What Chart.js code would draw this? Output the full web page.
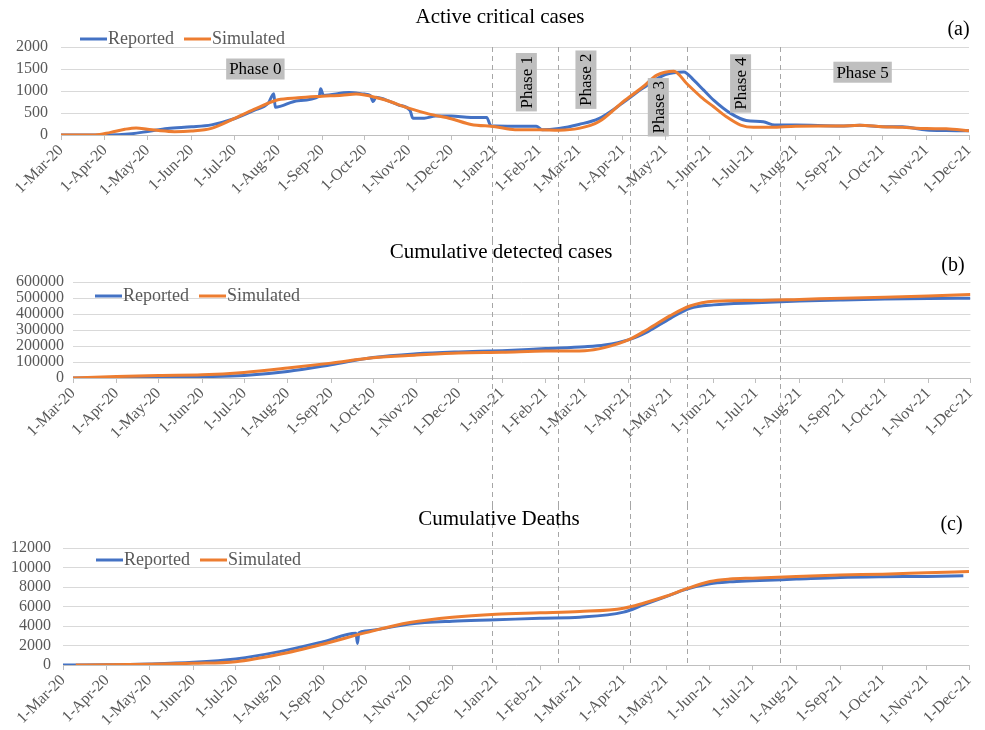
<!DOCTYPE html>
<html><head><meta charset="utf-8">
<script src="https://cdn.jsdelivr.net/npm/chart.js@4.4.0/dist/chart.umd.min.js"></script>
<style>
html,body{margin:0;padding:0;background:#fff;}
#wrap{position:relative;width:985px;height:730px;overflow:hidden;background:#fff;}
canvas{position:absolute;left:0;}
</style></head><body>
<div id="wrap">
<canvas id="cA" width="985" height="240" style="top:0px"></canvas>
<canvas id="cB" width="985" height="265" style="top:240px"></canvas>
<canvas id="cC" width="985" height="225" style="top:505px"></canvas>
</div>
<script>
// ---------------- DATA ----------------
const tickLabels = ['1-Mar-20','1-Apr-20','1-May-20','1-Jun-20','1-Jul-20','1-Aug-20','1-Sep-20','1-Oct-20','1-Nov-20','1-Dec-20','1-Jan-21','1-Feb-21','1-Mar-21','1-Apr-21','1-May-21','1-Jun-21','1-Jul-21','1-Aug-21','1-Sep-21','1-Oct-21','1-Nov-21','1-Dec-21'];
const seriesNames = ['Reported','Simulated'];
const phaseBoundaries = ['2020-12-30','2021-02-14','2021-04-06','2021-05-16','2021-07-21'];
const phaseNames = ['Phase 0','Phase 1','Phase 2','Phase 3','Phase 4','Phase 5'];
const phaseDates = ['2020-07-16','2021-01-23','2021-03-06','2021-04-26','2021-06-23','2021-09-17'];
const phaseValues = [1500,1200,1257,630,1171,1427];
const phaseVertical = [false,true,true,true,true,false];

// (a) Active critical cases
const activeRepDates = ['2020-03-01','2020-04-01','2020-04-20','2020-05-01','2020-05-15','2020-06-01','2020-06-15','2020-07-01','2020-07-15','2020-07-25','2020-07-29','2020-07-30','2020-08-15','2020-08-30','2020-08-31','2020-09-02','2020-09-20','2020-10-01','2020-10-05','2020-10-07','2020-10-09','2020-10-15','2020-10-25','2020-11-02','2020-11-04','2020-11-12','2020-11-20','2020-12-01','2020-12-15','2020-12-26','2020-12-29','2021-01-15','2021-01-30','2021-02-03','2021-02-15','2021-03-01','2021-03-15','2021-04-01','2021-04-15','2021-05-01','2021-05-14','2021-05-21','2021-05-28','2021-06-04','2021-06-16','2021-06-27','2021-07-09','2021-07-17','2021-08-01','2021-09-01','2021-09-15','2021-10-01','2021-10-15','2021-11-01','2021-11-15','2021-12-01'];
const activeRep = [0,0,30,80,150,185,230,370,560,720,940,630,780,880,1050,900,965,930,900,760,860,810,680,560,380,380,430,430,400,400,210,200,200,120,150,240,370,730,1060,1375,1434,1246,1019,793,491,330,300,226,226,205,220,190,185,115,100,95];
const activeSimDates = ['2020-03-01','2020-03-25','2020-04-05','2020-04-15','2020-04-23','2020-05-01','2020-05-10','2020-05-20','2020-06-01','2020-06-15','2020-07-01','2020-07-15','2020-08-01','2020-08-15','2020-09-01','2020-09-15','2020-09-25','2020-10-01','2020-10-15','2020-11-01','2020-11-15','2020-12-01','2020-12-15','2021-01-01','2021-01-15','2021-02-01','2021-02-15','2021-03-01','2021-03-15','2021-04-01','2021-04-15','2021-04-25','2021-05-07','2021-05-16','2021-05-26','2021-06-04','2021-06-13','2021-06-23','2021-07-02','2021-07-15','2021-08-01','2021-09-01','2021-09-15','2021-10-01','2021-10-15','2021-11-01','2021-11-15','2021-12-01'];
const activeSim = [0,0,60,130,160,130,95,75,90,150,370,580,800,845,880,905,930,910,800,610,480,370,240,190,120,120,110,150,300,750,1090,1360,1450,1170,868,641,415,226,174,175,200,205,220,190,175,145,140,95];

// (b) Cumulative detected cases
const detectedDates = ['2020-03-01','2020-04-01','2020-05-01','2020-06-01','2020-07-01','2020-08-01','2020-09-01','2020-10-01','2020-11-01','2020-12-01','2021-01-01','2021-02-01','2021-03-01','2021-03-15','2021-04-01','2021-04-15','2021-05-01','2021-05-15','2021-06-01','2021-07-01','2021-08-01','2021-09-01','2021-10-01','2021-11-01','2021-12-01'];
const detectedRep = [0,1000,4000,8000,16000,41000,83000,128000,151000,163000,171000,184000,195000,206000,238000,290000,373000,435000,457000,470000,481000,488000,493000,497000,499000];
const detectedSim = [0,9000,16000,20000,35000,62000,93000,126000,143000,157000,161000,168000,171000,190000,238000,305000,390000,450000,480000,484000,491000,499000,505000,513000,522000];

// (c) Cumulative deaths
const deathsRepDates = ['2020-03-01','2020-04-01','2020-05-01','2020-06-01','2020-07-01','2020-08-01','2020-09-01','2020-09-24','2020-09-25','2020-09-26','2020-10-01','2020-11-01','2020-12-01','2021-01-01','2021-02-01','2021-03-01','2021-04-01','2021-04-15','2021-05-01','2021-05-15','2021-06-01','2021-06-15','2021-07-01','2021-08-01','2021-09-01','2021-10-01','2021-11-01','2021-11-27'];
const deathsRep = [0,20,100,270,620,1370,2400,3250,2200,3300,3500,4215,4490,4630,4800,4900,5420,6170,7020,7760,8330,8530,8640,8810,8980,9050,9080,9150];
const deathsSimDates = ['2020-03-10','2020-04-01','2020-05-01','2020-06-01','2020-07-01','2020-08-01','2020-09-01','2020-10-01','2020-11-01','2020-12-01','2021-01-01','2021-02-01','2021-03-01','2021-04-01','2021-04-15','2021-05-01','2021-05-15','2021-06-01','2021-06-15','2021-07-01','2021-08-01','2021-09-01','2021-10-01','2021-11-01','2021-12-01'];
const deathsSim = [0,20,70,170,340,1100,2160,3320,4350,4900,5210,5350,5480,5830,6340,7050,7800,8560,8810,8910,9080,9220,9320,9460,9590];

// ---------------- HELPERS ----------------
const FONT = "'Liberation Serif','Times New Roman',serif";
const BLUE = '#4472c4', ORANGE = '#ed7d31';
const START = Date.UTC(2020, 2, 1);
const MON = {Jan:0,Feb:1,Mar:2,Apr:3,May:4,Jun:5,Jul:6,Aug:7,Sep:8,Oct:9,Nov:10,Dec:11};
function dayOf(s){ const [y,m,d]=s.split('-').map(Number); return Math.round((Date.UTC(y,m-1,d)-START)/86400000); }
function dayOfLabel(l){ const [d,m,y]=l.split('-'); return Math.round((Date.UTC(2000+Number(y),MON[m],Number(d))-START)/86400000); }
const tickDays = tickLabels.map(dayOfLabel);
function pts(dates, vals){ return dates.map((d,i)=>({x:dayOf(d), y:vals[i]})); }

let chartA = null;

function decor(p){
  return {
    id:'decor_'+p.id,
    beforeDatasetsDraw(chart){
      const ref = chartA || chart;
      const xs = ref.scales.x;
      const ctx = chart.ctx, ca = chart.chartArea;
      const top = p.lineFromArea ? ca.top : 0;
      const bottom = p.lineToArea ? ca.bottom : chart.height;
      ctx.save();
      ctx.strokeStyle = '#a6a6a6'; ctx.lineWidth = 1; ctx.setLineDash([5,4]);
      phaseBoundaries.forEach(d=>{
        const px = Math.round(xs.getPixelForValue(dayOf(d))) + 0.5;
        ctx.beginPath(); ctx.moveTo(px, top); ctx.lineTo(px, bottom); ctx.stroke();
      });
      ctx.restore();
    },
    afterDatasetsDraw(chart){
      const ctx = chart.ctx;
      ctx.save();
      if (p.phases) {
        ctx.font = '17px ' + FONT;
        phaseNames.forEach((t,i)=>{
          const cx = chart.scales.x.getPixelForValue(dayOf(phaseDates[i]));
          const cy = chart.scales.y.getPixelForValue(phaseValues[i]);
          const w = ctx.measureText(t).width + 6, h = 21;
          ctx.save();
          ctx.translate(cx, cy);
          if (phaseVertical[i]) ctx.rotate(-Math.PI/2);
          ctx.fillStyle = '#bfbfbf';
          ctx.fillRect(-w/2, -h/2, w, h);
          ctx.fillStyle = '#000';
          ctx.textAlign = 'center'; ctx.textBaseline = 'middle';
          ctx.fillText(t, 0, 1);
          ctx.restore();
        });
      }
      // title
      ctx.fillStyle = '#000';
      ctx.font = '21px ' + FONT;
      ctx.textAlign = 'center'; ctx.textBaseline = 'middle';
      ctx.fillText(p.title, p.titleX, p.titleY);
      ctx.font = '20px ' + FONT;
      ctx.fillText(p.letter, p.letterX, p.letterY);
      // legend
      ctx.font = '18px ' + FONT;
      ctx.textAlign = 'left';
      let x = p.legendX;
      chart.data.datasets.forEach(ds=>{
        ctx.strokeStyle = ds.borderColor; ctx.lineWidth = 3;
        ctx.beginPath(); ctx.moveTo(x, p.legendY); ctx.lineTo(x+27, p.legendY); ctx.stroke();
        ctx.fillStyle = '#595959';
        ctx.fillText(ds.label, x+28, p.legendY);
        x += 28 + ctx.measureText(ds.label).width + 10;
      });
      ctx.restore();
    }
  };
}

function buildPanel(canvasId, p){
  const canvas = document.getElementById(canvasId);
  const H = canvas.height;
  return new Chart(canvas, {
    type:'line',
    data:{ datasets:[
      {label:seriesNames[0], data:pts(p.repDates,p.rep), borderColor:BLUE, backgroundColor:BLUE, borderWidth:3, pointRadius:0, cubicInterpolationMode:'monotone', order:2, borderJoinStyle:'round'},
      {label:seriesNames[1], data:pts(p.simDates,p.sim), borderColor:ORANGE, backgroundColor:ORANGE, borderWidth:3, pointRadius:0, cubicInterpolationMode:'monotone', order:1, borderJoinStyle:'round'}
    ]},
    options:{
      responsive:false, animation:false, devicePixelRatio:1,
      layout:{ padding:{ top:p.top, right:985-p.right, bottom:0, left:0 } },
      plugins:{ legend:{display:false}, tooltip:{enabled:false}, title:{display:false} },
      scales:{
        x:{
          type:'linear', min:0, max:640,
          afterBuildTicks:s=>{ s.ticks = tickDays.map(v=>({value:v})); },
          afterFit:s=>{ s.height = H - p.bottom; },
          ticks:{ autoSkip:false, minRotation:45, maxRotation:45, padding:1,
                  font:{family:FONT, size:16}, color:'#595959',
                  callback:(v,i)=>tickLabels[i] },
          grid:{ drawOnChartArea:false, drawTicks:true, tickLength:5, color:'#bfbfbf' },
          border:{ display:true, color:'#bfbfbf', width:1 }
        },
        y:{
          min:0, max:p.yMax,
          afterBuildTicks:s=>{ const t=[]; for(let v=0; v<=p.yMax; v+=p.yStep) t.push({value:v}); s.ticks=t; },
          afterFit:s=>{ s.width = p.left; },
          ticks:{ autoSkip:false, stepSize:p.yStep, padding:p.yPad, font:{family:FONT, size:16}, color:'#595959',
                  callback:v=>String(v) },
          grid:{ color:'#d9d9d9', drawTicks:false, lineWidth:1 },
          border:{ display:false }
        }
      }
    },
    plugins:[decor(p)]
  });
}

chartA = buildPanel('cA', {
  id:'a', repDates:activeRepDates, rep:activeRep, simDates:activeSimDates, sim:activeSim,
  top:47, bottom:135, left:61, right:969, yMax:2000, yStep:500, yPad:13,
  title:'Active critical cases', titleX:500, titleY:17.5, letter:'(a)', letterX:958.5, letterY:30,
  legendX:80, legendY:39, phases:true, lineFromArea:true, lineToArea:false
});
buildPanel('cB', {
  id:'b', repDates:detectedDates, rep:detectedRep, simDates:detectedDates, sim:detectedSim,
  top:42, bottom:138, left:73, right:971, yMax:600000, yStep:100000, yPad:9,
  title:'Cumulative detected cases', titleX:501, titleY:12.5, letter:'(b)', letterX:953, letterY:26,
  legendX:95, legendY:56, phases:false, lineFromArea:false, lineToArea:false
});
buildPanel('cC', {
  id:'c', repDates:deathsRepDates, rep:deathsRep, simDates:deathsSimDates, sim:deathsSim,
  top:43, bottom:160, left:63, right:969, yMax:12000, yStep:2000, yPad:12,
  title:'Cumulative Deaths', titleX:499, titleY:14, letter:'(c)', letterX:951.5, letterY:20,
  legendX:96, legendY:55, phases:false, lineFromArea:false, lineToArea:true
});
</script>
</body></html>
